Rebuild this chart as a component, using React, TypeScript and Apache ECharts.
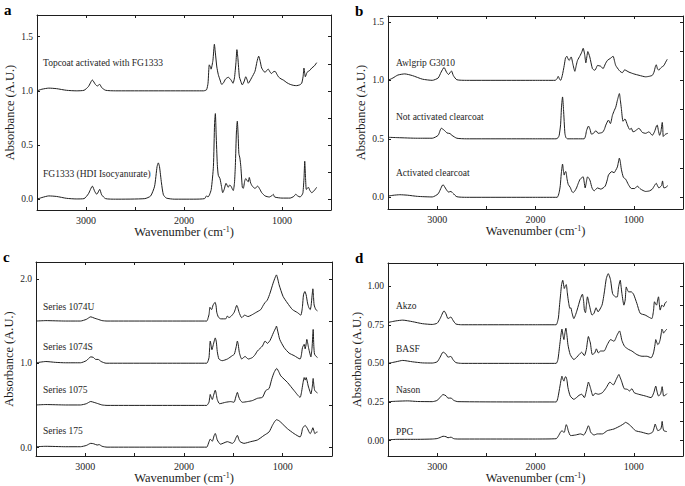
import { useEffect, useRef } from 'react';
import * as echarts from 'echarts';

type P = [number, number][];

// ---------- Panel a ----------
const topcoatFG1333: P = [[3500,1.0],[3450,1.015],[3380,1.025],[3300,1.02],[3200,1.005],[3100,1.0],[3020,1.005],[2975,1.04],[2935,1.10],[2905,1.06],[2885,1.045],[2860,1.06],[2840,1.03],[2800,1.005],[2700,1.0],[2400,1.0],[2000,1.0],[1800,1.0],[1770,1.01],[1755,1.07],[1742,1.24],[1730,1.22],[1724,1.20],[1705,1.28],[1690,1.43],[1680,1.35],[1665,1.22],[1650,1.15],[1632,1.10],[1616,1.06],[1600,1.07],[1575,1.11],[1548,1.125],[1520,1.10],[1500,1.07],[1485,1.12],[1470,1.26],[1460,1.38],[1450,1.30],[1435,1.13],[1425,1.10],[1405,1.055],[1385,1.09],[1370,1.13],[1355,1.10],[1344,1.07],[1310,1.12],[1276,1.18],[1255,1.27],[1238,1.32],[1222,1.27],[1207,1.21],[1173,1.17],[1155,1.19],[1140,1.20],[1120,1.17],[1106,1.16],[1090,1.175],[1071,1.18],[1050,1.15],[1037,1.13],[1010,1.11],[987,1.10],[950,1.075],[918,1.06],[880,1.05],[850,1.048],[820,1.055],[799,1.07],[785,1.13],[776,1.21],[768,1.16],[762,1.13],[745,1.17],[731,1.18],[715,1.19],[697,1.21],[670,1.23],[646,1.26]];
const fg1333HDI: P = [[3500,0.0],[3450,0.015],[3380,0.03],[3300,0.025],[3200,0.008],[3100,0.002],[3020,0.005],[2975,0.05],[2935,0.12],[2910,0.07],[2890,0.045],[2860,0.09],[2840,0.04],[2800,0.005],[2700,0.0],[2400,0.005],[2340,0.03],[2300,0.12],[2275,0.30],[2262,0.335],[2250,0.30],[2230,0.15],[2210,0.04],[2180,0.01],[2100,0.0],[1900,0.0],[1790,0.005],[1770,0.03],[1755,0.02],[1740,0.04],[1722,0.09],[1700,0.3],[1688,0.7],[1680,0.79],[1672,0.6],[1660,0.32],[1650,0.22],[1633,0.19],[1618,0.12],[1605,0.06],[1590,0.09],[1571,0.146],[1548,0.11],[1535,0.13],[1520,0.12],[1505,0.09],[1497,0.08],[1485,0.15],[1476,0.31],[1465,0.62],[1456,0.72],[1448,0.6],[1440,0.42],[1430,0.38],[1420,0.30],[1405,0.11],[1395,0.10],[1380,0.17],[1370,0.19],[1355,0.17],[1345,0.16],[1334,0.20],[1320,0.15],[1303,0.12],[1276,0.10],[1248,0.12],[1225,0.09],[1207,0.06],[1173,0.03],[1130,0.02],[1100,0.035],[1089,0.045],[1075,0.02],[1000,0.01],[918,0.01],[880,0.025],[860,0.045],[840,0.03],[816,0.02],[795,0.04],[786,0.06],[775,0.2],[768,0.35],[760,0.2],[752,0.09],[740,0.1],[731,0.11],[715,0.08],[697,0.06],[670,0.08],[646,0.11]];

// ---------- Panel b ----------
const awlgripG3010: P = [[3500,1.0],[3450,1.02],[3400,1.045],[3330,1.055],[3250,1.04],[3150,1.01],[3050,1.0],[2990,1.02],[2960,1.07],[2930,1.11],[2905,1.07],[2885,1.05],[2855,1.08],[2835,1.04],[2800,1.005],[2700,1.0],[2000,1.0],[1800,1.0],[1780,1.015],[1769,1.034],[1755,1.01],[1744,1.0],[1728,1.04],[1708,1.127],[1695,1.19],[1681,1.206],[1667,1.18],[1657,1.17],[1645,1.19],[1637,1.20],[1620,1.14],[1600,1.077],[1585,1.13],[1573,1.17],[1546,1.212],[1530,1.24],[1515,1.274],[1500,1.22],[1488,1.15],[1478,1.2],[1468,1.246],[1448,1.20],[1421,1.10],[1397,1.086],[1380,1.11],[1370,1.127],[1336,1.12],[1313,1.10],[1290,1.14],[1269,1.17],[1235,1.19],[1211,1.206],[1195,1.16],[1184,1.127],[1150,1.086],[1130,1.07],[1116,1.066],[1093,1.09],[1070,1.08],[1049,1.07],[1000,1.055],[947,1.043],[880,1.03],[840,1.035],[812,1.043],[795,1.07],[780,1.12],[772,1.133],[760,1.1],[745,1.086],[733,1.1],[721,1.11],[694,1.127],[680,1.15],[660,1.18]];
const notActivatedClearcoat: P = [[3500,0.513],[3400,0.51],[3200,0.505],[3050,0.505],[2990,0.53],[2958,0.59],[2930,0.575],[2900,0.55],[2870,0.545],[2850,0.53],[2800,0.505],[2700,0.5],[2000,0.5],[1790,0.5],[1770,0.51],[1759,0.53],[1745,0.62],[1735,0.78],[1725,0.858],[1715,0.75],[1701,0.547],[1690,0.51],[1674,0.5],[1505,0.5],[1490,0.53],[1481,0.57],[1461,0.609],[1445,0.58],[1431,0.54],[1410,0.547],[1386,0.57],[1363,0.547],[1340,0.55],[1319,0.555],[1300,0.58],[1285,0.617],[1258,0.66],[1238,0.63],[1218,0.70],[1200,0.74],[1184,0.77],[1167,0.83],[1147,0.887],[1137,0.83],[1127,0.76],[1110,0.65],[1090,0.67],[1066,0.62],[1042,0.58],[1025,0.59],[1009,0.56],[990,0.565],[975,0.575],[948,0.59],[914,0.555],[880,0.547],[846,0.56],[825,0.54],[812,0.53],[790,0.56],[770,0.61],[762,0.617],[750,0.57],[738,0.53],[725,0.56],[711,0.64],[706,0.6],[701,0.52],[690,0.53],[677,0.54],[654,0.547]];
const activatedClearcoat: P = [[3500,0.01],[3450,0.017],[3380,0.022],[3300,0.018],[3200,0.008],[3050,0.003],[2990,0.03],[2940,0.108],[2910,0.07],[2885,0.045],[2860,0.05],[2840,0.035],[2800,0.005],[2700,0.0],[2000,0.0],[1780,0.0],[1760,0.04],[1748,0.10],[1738,0.2],[1725,0.284],[1715,0.22],[1708,0.19],[1700,0.215],[1691,0.22],[1680,0.16],[1667,0.11],[1647,0.085],[1630,0.05],[1617,0.04],[1600,0.055],[1583,0.08],[1565,0.12],[1546,0.155],[1515,0.175],[1505,0.13],[1495,0.08],[1485,0.12],[1471,0.175],[1455,0.16],[1444,0.14],[1425,0.08],[1404,0.055],[1385,0.07],[1370,0.08],[1336,0.07],[1292,0.095],[1270,0.15],[1258,0.19],[1224,0.22],[1201,0.21],[1185,0.23],[1167,0.26],[1147,0.335],[1137,0.3],[1127,0.24],[1106,0.17],[1083,0.155],[1056,0.11],[1025,0.075],[992,0.075],[965,0.095],[931,0.07],[880,0.05],[840,0.055],[812,0.07],[790,0.1],[772,0.12],[760,0.1],[745,0.08],[730,0.09],[718,0.10],[708,0.14],[701,0.1],[694,0.08],[675,0.085],[654,0.10]];

// ---------- Panel c ----------
const series1074U: P = [[3500,1.5],[3400,1.505],[3200,1.5],[3050,1.5],[2990,1.52],[2945,1.55],[2910,1.535],[2870,1.52],[2830,1.505],[2780,1.5],[2000,1.5],[1770,1.5],[1755,1.54],[1746,1.58],[1737,1.663],[1728,1.645],[1720,1.636],[1705,1.69],[1685,1.722],[1675,1.68],[1668,1.604],[1651,1.546],[1627,1.526],[1577,1.526],[1560,1.56],[1545,1.54],[1520,1.56],[1493,1.60],[1480,1.64],[1466,1.686],[1455,1.66],[1442,1.604],[1415,1.54],[1385,1.57],[1351,1.553],[1317,1.57],[1273,1.60],[1222,1.636],[1200,1.68],[1182,1.714],[1155,1.75],[1128,1.832],[1097,1.949],[1075,2.02],[1063,2.047],[1050,2.0],[1036,1.93],[996,1.792],[952,1.714],[901,1.636],[850,1.60],[816,1.57],[805,1.62],[799,1.675],[789,1.81],[775,1.85],[762,1.81],[748,1.714],[735,1.66],[721,1.636],[712,1.68],[702,1.8],[694,1.882],[687,1.78],[681,1.69],[664,1.636],[647,1.62]];
const series1074S: P = [[3500,1.005],[3400,1.02],[3300,1.01],[3200,1.005],[3050,1.005],[2990,1.03],[2945,1.075],[2920,1.07],[2895,1.045],[2870,1.045],[2840,1.02],[2790,1.0],[2000,1.0],[1770,1.0],[1755,1.03],[1746,1.07],[1740,1.18],[1734,1.263],[1725,1.21],[1717,1.16],[1703,1.22],[1683,1.30],[1672,1.25],[1663,1.14],[1646,1.05],[1613,1.03],[1560,1.05],[1510,1.09],[1490,1.107],[1470,1.2],[1459,1.263],[1450,1.22],[1439,1.126],[1415,1.05],[1381,1.08],[1348,1.05],[1307,1.067],[1280,1.1],[1256,1.145],[1205,1.204],[1178,1.263],[1155,1.235],[1128,1.27],[1094,1.361],[1070,1.42],[1063,1.44],[1050,1.38],[1029,1.28],[985,1.185],[935,1.12],[884,1.09],[823,1.05],[810,1.1],[799,1.185],[782,1.224],[772,1.17],[762,1.23],[755,1.282],[745,1.23],[738,1.185],[725,1.12],[714,1.075],[705,1.15],[701,1.204],[694,1.35],[691,1.40],[684,1.2],[677,1.107],[660,1.08],[647,1.067]];
const series1075: P = [[3500,0.505],[3400,0.51],[3200,0.505],[3050,0.505],[2990,0.52],[2945,0.546],[2910,0.535],[2870,0.52],[2830,0.505],[2780,0.5],[2000,0.5],[1770,0.5],[1755,0.52],[1746,0.54],[1734,0.63],[1723,0.59],[1713,0.57],[1700,0.62],[1683,0.68],[1672,0.63],[1663,0.57],[1639,0.52],[1577,0.537],[1527,0.545],[1493,0.537],[1475,0.6],[1459,0.654],[1445,0.6],[1432,0.565],[1408,0.537],[1358,0.545],[1307,0.557],[1256,0.584],[1205,0.596],[1172,0.675],[1138,0.70],[1111,0.81],[1087,0.89],[1060,0.938],[1040,0.9],[1019,0.85],[952,0.773],[884,0.675],[823,0.596],[810,0.65],[799,0.73],[782,0.83],[772,0.80],[762,0.83],[752,0.79],[741,0.73],[725,0.67],[714,0.635],[700,0.72],[691,0.819],[683,0.73],[674,0.675],[647,0.647]];
const series175: P = [[3500,0.01],[3400,0.015],[3200,0.01],[3050,0.01],[2990,0.025],[2945,0.05],[2915,0.045],[2880,0.03],[2860,0.035],[2830,0.015],[2780,0.005],[2000,0.005],[1770,0.005],[1755,0.04],[1746,0.07],[1734,0.1],[1725,0.09],[1713,0.075],[1695,0.14],[1683,0.167],[1672,0.13],[1663,0.09],[1630,0.04],[1560,0.07],[1510,0.05],[1490,0.07],[1472,0.12],[1459,0.145],[1445,0.1],[1432,0.07],[1392,0.05],[1324,0.07],[1256,0.09],[1188,0.145],[1138,0.185],[1104,0.263],[1080,0.31],[1063,0.33],[1040,0.32],[1019,0.30],[952,0.224],[884,0.165],[823,0.126],[810,0.16],[799,0.224],[785,0.25],[772,0.263],[760,0.245],[748,0.224],[735,0.19],[721,0.165],[705,0.2],[694,0.235],[684,0.2],[674,0.165],[660,0.18],[647,0.185]];

// ---------- Panel d ----------
const akzo: P = [[3500,0.765],[3420,0.775],[3350,0.78],[3250,0.77],[3150,0.757],[3050,0.752],[3000,0.76],[2970,0.79],[2930,0.84],[2910,0.82],[2890,0.79],[2860,0.80],[2840,0.78],[2810,0.755],[2750,0.75],[2000,0.75],[1790,0.75],[1776,0.77],[1766,0.8],[1755,0.88],[1744,0.952],[1735,1.01],[1723,1.038],[1712,1.0],[1707,0.985],[1697,1.0],[1687,1.01],[1677,0.96],[1667,0.91],[1650,0.856],[1640,0.86],[1630,0.83],[1610,0.79],[1595,0.81],[1577,0.845],[1543,0.92],[1523,0.948],[1510,0.9],[1503,0.845],[1492,0.828],[1482,0.88],[1472,0.931],[1452,0.877],[1425,0.813],[1405,0.824],[1384,0.86],[1364,0.834],[1324,0.877],[1310,0.92],[1297,0.974],[1280,1.049],[1260,1.081],[1248,1.065],[1236,1.038],[1216,0.952],[1189,0.931],[1169,0.93],[1155,0.995],[1138,1.038],[1130,1.0],[1121,0.952],[1101,0.877],[1088,0.91],[1077,0.995],[1065,0.975],[1053,0.963],[1026,0.963],[1003,0.948],[969,0.888],[935,0.824],[885,0.813],[844,0.798],[817,0.79],[800,0.84],[790,0.899],[769,0.877],[755,0.92],[749,0.931],[740,0.88],[732,0.845],[715,0.877],[698,0.867],[681,0.892],[664,0.9]];
const basf: P = [[3500,0.5],[3420,0.51],[3350,0.519],[3250,0.51],[3150,0.503],[3050,0.502],[3000,0.51],[2970,0.54],[2940,0.573],[2910,0.56],[2890,0.54],[2860,0.545],[2840,0.525],[2810,0.505],[2750,0.5],[2000,0.5],[1790,0.5],[1772,0.525],[1751,0.632],[1731,0.722],[1720,0.68],[1711,0.654],[1700,0.70],[1691,0.728],[1680,0.68],[1670,0.621],[1647,0.557],[1610,0.525],[1580,0.54],[1557,0.557],[1530,0.572],[1503,0.55],[1483,0.59],[1470,0.65],[1462,0.674],[1450,0.65],[1442,0.632],[1422,0.557],[1397,0.568],[1381,0.594],[1361,0.568],[1337,0.58],[1303,0.58],[1270,0.621],[1236,0.654],[1202,0.643],[1169,0.685],[1145,0.71],[1135,0.69],[1121,0.648],[1094,0.61],[1053,0.59],[1020,0.58],[969,0.557],[918,0.546],[868,0.546],[824,0.536],[800,0.568],[785,0.62],[777,0.654],[766,0.635],[756,0.621],[744,0.63],[732,0.654],[720,0.7],[715,0.722],[705,0.71],[698,0.696],[681,0.71],[664,0.722]];
const nason: P = [[3500,0.252],[3400,0.255],[3300,0.257],[3200,0.253],[3050,0.252],[3000,0.26],[2970,0.28],[2940,0.298],[2910,0.29],[2890,0.275],[2860,0.275],[2830,0.26],[2790,0.252],[2000,0.25],[1790,0.25],[1772,0.278],[1751,0.353],[1731,0.417],[1720,0.395],[1711,0.385],[1700,0.41],[1691,0.413],[1680,0.39],[1670,0.343],[1647,0.289],[1610,0.267],[1580,0.28],[1557,0.293],[1530,0.30],[1503,0.278],[1483,0.321],[1470,0.36],[1462,0.379],[1450,0.36],[1442,0.343],[1415,0.289],[1394,0.306],[1361,0.30],[1320,0.31],[1280,0.343],[1243,0.379],[1209,0.36],[1179,0.396],[1152,0.428],[1140,0.41],[1125,0.385],[1098,0.336],[1067,0.332],[1043,0.321],[1020,0.336],[996,0.31],[952,0.30],[885,0.289],[824,0.278],[797,0.31],[777,0.353],[765,0.32],[749,0.289],[729,0.30],[718,0.33],[712,0.349],[705,0.32],[698,0.289],[681,0.293],[664,0.304]];
const ppg: P = [[3500,0.005],[3400,0.008],[3200,0.008],[3050,0.01],[3000,0.013],[2970,0.02],[2940,0.028],[2910,0.025],[2890,0.018],[2860,0.022],[2830,0.012],[2790,0.01],[2000,0.01],[1790,0.012],[1765,0.032],[1745,0.055],[1731,0.064],[1715,0.055],[1707,0.054],[1697,0.08],[1687,0.103],[1677,0.09],[1667,0.064],[1643,0.032],[1593,0.036],[1543,0.043],[1510,0.036],[1483,0.064],[1462,0.096],[1450,0.08],[1439,0.054],[1405,0.036],[1371,0.043],[1320,0.043],[1270,0.064],[1202,0.075],[1135,0.096],[1100,0.11],[1084,0.118],[1060,0.11],[1033,0.096],[983,0.064],[918,0.054],[851,0.043],[810,0.054],[795,0.08],[783,0.107],[770,0.085],[756,0.064],[726,0.075],[717,0.1],[712,0.124],[705,0.09],[695,0.064],[664,0.058]];

// ---------- Axis tick labels ----------
const xTickLabels = [1000, 2000, 3000];
const yLabelsA = [0, 0.5, 1.0, 1.5];
const yLabelsB = [0, 0.5, 1.0, 1.5];
const yLabelsC = [0, 1.0, 2.0];
const yLabelsD = [0, 0.25, 0.5, 0.75, 1.0];
const yMinorA = [0, 0.25, 0.5, 0.75, 1.0, 1.25, 1.5];
const yMinorB = [0, 0.25, 0.5, 0.75, 1.0, 1.25, 1.5];
const yMinorC = [0, 0.5, 1.0, 1.5, 2.0];
const yMinorD = [0, 0.125, 0.25, 0.375, 0.5, 0.625, 0.75, 0.875, 1.0];

const FONT = '"Liberation Serif", "Times New Roman", serif';
const INK = '#1e1e1e';

interface Panel {
  letter: string;
  box: [number, number, number, number];
  yRange: [number, number];
  yLabels: number[];
  yTicks: number[];
  decimals: number;
  lines: { name: string; data: P; labelAt: [number, number] }[];
}

const panels: Panel[] = [
  {
    letter: 'a', box: [37, 15, 294, 195], yRange: [-0.1, 1.7], yLabels: yLabelsA, yTicks: yMinorA, decimals: 1,
    lines: [
      { name: 'Topcoat activated with FG1333', data: topcoatFG1333, labelAt: [43, 63] },
      { name: 'FG1333 (HDI Isocyanurate)', data: fg1333HDI, labelAt: [43, 174] },
    ],
  },
  {
    letter: 'b', box: [388, 16, 295, 193], yRange: [-0.1, 1.55], yLabels: yLabelsB, yTicks: yMinorB, decimals: 1,
    lines: [
      { name: 'Awlgrip G3010', data: awlgripG3010, labelAt: [396, 63] },
      { name: 'Not activated clearcoat', data: notActivatedClearcoat, labelAt: [396, 117] },
      { name: 'Activated clearcoat', data: activatedClearcoat, labelAt: [396, 173] },
    ],
  },
  {
    letter: 'c', box: [36, 262, 296, 194], yRange: [-0.1, 2.2], yLabels: yLabelsC, yTicks: yMinorC, decimals: 1,
    lines: [
      { name: 'Series 1074U', data: series1074U, labelAt: [43, 307] },
      { name: 'Series 1074S', data: series1074S, labelAt: [43, 347] },
      { name: 'Series 1075', data: series1075, labelAt: [43, 390] },
      { name: 'Series 175', data: series175, labelAt: [43, 431] },
    ],
  },
  {
    letter: 'd', box: [388, 263, 295, 193], yRange: [-0.1, 1.15], yLabels: yLabelsD, yTicks: yMinorD, decimals: 2,
    lines: [
      { name: 'Akzo', data: akzo, labelAt: [396, 306] },
      { name: 'BASF', data: basf, labelAt: [396, 349] },
      { name: 'Nason', data: nason, labelAt: [396, 390] },
      { name: 'PPG', data: ppg, labelAt: [396, 432] },
    ],
  },
];

function buildOption() {
  const axisLine = { show: true, onZero: false, lineStyle: { color: INK, width: 1 } };
  const grid: any[] = [];
  const xAxis: any[] = [];
  const yAxis: any[] = [];
  const series: any[] = [];
  const graphic: any[] = [];

  panels.forEach((p, i) => {
    grid.push({ left: p.box[0], top: p.box[1], width: p.box[2], height: p.box[3], containLabel: false, outerBoundsMode: 'none' });
    const xBase = {
      type: 'value', gridIndex: i, min: 500, max: 3500, interval: 500, inverse: true,
      axisLine, splitLine: { show: false },
      axisTick: { show: true, inside: true, length: 3, lineStyle: { color: INK, width: 1 } },
    };
    xAxis.push({
      ...xBase, position: 'bottom',
      axisLabel: {
        show: true, margin: 5, fontFamily: FONT, fontSize: 10, color: INK,
        formatter: (v: number) => (xTickLabels.indexOf(v) >= 0 ? String(v) : ''),
      },
      name: 'Wavenumber (cm{sup|-1})', nameLocation: 'middle', nameGap: 15,
      nameTextStyle: {
        fontFamily: FONT, fontSize: 12.5, color: INK,
        rich: { sup: { fontFamily: FONT, fontSize: 8, color: INK, verticalAlign: 'top', lineHeight: 10 } },
      },
    });
    xAxis.push({ ...xBase, position: 'top', axisLabel: { show: false } });

    const yBase = {
      type: 'value', gridIndex: i, min: p.yRange[0], max: p.yRange[1],
      axisLine, splitLine: { show: false },
    };
    yAxis.push({
      ...yBase, position: 'left',
      axisTick: { show: true, inside: true, length: 3, customValues: p.yLabels, lineStyle: { color: INK, width: 1 } },
      axisLabel: {
        show: true, margin: 4, fontFamily: FONT, fontSize: 9.5, color: INK, customValues: p.yLabels,
        formatter: (v: number) => v.toFixed(p.decimals),
      },
      name: 'Absorbance (A.U.)', nameLocation: 'middle', nameGap: 21, nameRotate: 90,
      nameTextStyle: { fontFamily: FONT, fontSize: 12.5, color: INK },
    });
    yAxis.push({
      ...yBase, position: 'right',
      axisTick: { show: true, inside: true, length: 3, customValues: p.yTicks, lineStyle: { color: INK, width: 1 } },
      axisLabel: { show: false },
    });

    p.lines.forEach((l) => {
      series.push({
        type: 'line', name: l.name, xAxisIndex: 2 * i, yAxisIndex: 2 * i,
        data: l.data, showSymbol: false, symbol: 'none', smooth: 0.2,
        lineStyle: { color: INK, width: 1 }, silent: true,
      });
      graphic.push({
        type: 'text', x: l.labelAt[0], y: l.labelAt[1],
        style: { text: l.name, fill: INK, font: `9.5px ${FONT}`, align: 'left', verticalAlign: 'middle' },
      });
    });

    graphic.push({
      type: 'text', x: p.box[0] - 33 + (i % 2 === 0 ? 0 : 0), y: p.box[1] - 5,
      style: { text: p.letter, fill: '#000', font: `bold 15px ${FONT}`, align: 'left', verticalAlign: 'middle' },
    });
  });

  return {
    animation: false,
    backgroundColor: '#ffffff',
    grid, xAxis, yAxis, series, graphic,
  };
}

export default function App() {
  const ref = useRef<HTMLDivElement>(null);
  useEffect(() => {
    if (!ref.current) return;
    const chart = echarts.init(ref.current, undefined, { renderer: 'svg' });
    chart.setOption(buildOption() as any);
    return () => chart.dispose();
  }, []);
  return (
    <div
      ref={ref}
      style={{ position: 'absolute', left: 0, top: 0, width: 685, height: 486, background: '#fff' }}
    />
  );
}
